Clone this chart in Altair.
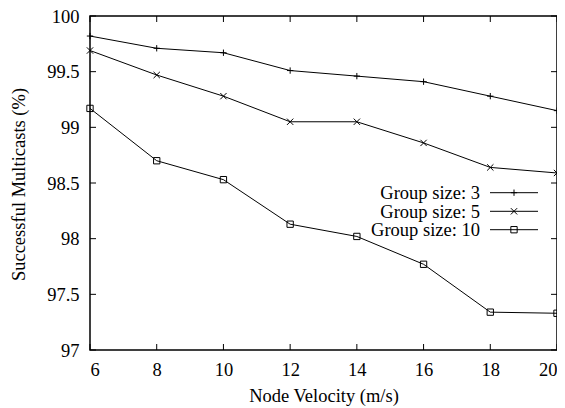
import altair as alt
import pandas as pd

velocity = [6, 8, 10, 12, 14, 16, 18, 20]
group3 = [99.82, 99.71, 99.67, 99.51, 99.46, 99.41, 99.28, 99.15]
group5 = [99.69, 99.47, 99.28, 99.05, 99.05, 98.86, 98.64, 98.59]
group10 = [99.17, 98.70, 98.53, 98.13, 98.02, 97.77, 97.34, 97.33]
series_names = ["Group size: 3", "Group size: 5", "Group size: 10"]
x_ticks = [6, 8, 10, 12, 14, 16, 18, 20]
y_ticks = [97, 97.5, 98, 98.5, 99, 99.5, 100]

PLUS = "M-1,0L1,0M0,-1L0,1"
CROSS = "M-1,-1L1,1M-1,1L1,-1"
SQUARE = "M-1,-1L1,-1L1,1L-1,1Z"
shapes = [PLUS, CROSS, SQUARE]

W, H = 467, 334
TOP = 8
FONT = "Liberation Serif"
FS = 18.5

rows = []
for name, vals in zip(series_names, [group3, group5, group10]):
    for v, s in zip(velocity, vals):
        rows.append({"vel": v, "val": s, "series": name})
df = pd.DataFrame(rows)

xs = alt.Scale(domain=[6, 20], nice=False, zero=False)
ys = alt.Scale(domain=[97, 100], nice=False, zero=False)

x_axis = alt.Axis(
    values=x_ticks, ticks=False, domain=False, grid=False,
    labelFont=FONT, labelFontSize=FS, labelColor="black", labelPadding=10,
    title="Node Velocity (m/s)", titleFont=FONT, titleFontSize=FS,
    titleFontWeight="normal", titleColor="black",
    titleX=W / 2, titleY=51.5, titleBaseline="alphabetic", titleAlign="center")
y_axis = alt.Axis(
    values=y_ticks, ticks=False, domain=False, grid=False,
    labelExpr="'' + datum.value",
    labelFont=FONT, labelFontSize=FS, labelColor="black", labelPadding=11,
    title="Successful Multicasts (%)", titleFont=FONT, titleFontSize=FS,
    titleFontWeight="normal", titleColor="black",
    titleX=-72, titleY=H / 2 + 1, titleBaseline="middle", titleAlign="center", titleAngle=-90)

X = alt.X("vel:Q", scale=xs, axis=x_axis, title="Node Velocity (m/s)")
Y = alt.Y("val:Q", scale=ys, axis=y_axis, title="Successful Multicasts (%)")

lines = alt.Chart(df).mark_line(color="black", strokeWidth=1).encode(
    x=X, y=Y, detail="series:N")
points = alt.Chart(df).mark_point(filled=False, color="black", strokeWidth=1, size=40, opacity=1).encode(
    x=X, y=Y,
    shape=alt.Shape("series:N", scale=alt.Scale(domain=series_names, range=shapes), legend=None))

xt = pd.DataFrame({"vel": x_ticks})
yt = pd.DataFrame({"val": y_ticks})
tick_layers = [
    alt.Chart(xt).mark_rule(color="black", strokeWidth=1).encode(
        x=X, y=alt.value(H), y2=alt.value(H - 6)),
    alt.Chart(xt).mark_rule(color="black", strokeWidth=1).encode(
        x=X, y=alt.value(0), y2=alt.value(6)),
    alt.Chart(yt).mark_rule(color="black", strokeWidth=1).encode(
        y=Y, x=alt.value(0), x2=alt.value(6)),
    alt.Chart(yt).mark_rule(color="black", strokeWidth=1).encode(
        y=Y, x=alt.value(W), x2=alt.value(W - 6)),
]

legend_layers = []
leg_y = [176.7, 195.3, 213.7]
for name, shp, ly in zip(series_names, shapes, leg_y):
    ld = pd.DataFrame({"label": [name]})
    legend_layers.append(alt.Chart(ld).mark_text(
        font=FONT, fontSize=FS, color="black", align="right", baseline="middle").encode(
        text="label:N", x=alt.value(390), y=alt.value(ly + 0.5)))
    legend_layers.append(alt.Chart(ld).mark_rule(color="black", strokeWidth=1).encode(
        x=alt.value(400), x2=alt.value(448), y=alt.value(ly)))
    legend_layers.append(alt.Chart(ld).mark_point(
        shape=shp, filled=False, color="black", strokeWidth=1, size=40, opacity=1).encode(
        x=alt.value(424), y=alt.value(ly)))

chart = alt.layer(lines, points, *tick_layers, *legend_layers).properties(
    width=W, height=H,
    autosize=alt.AutoSizeParams(type="none"),
    padding={"left": 82, "top": TOP, "right": 0, "bottom": 56},
    background="white",
).configure_view(stroke="black", strokeWidth=1.5)

chart.save("out.html", embed_options={"renderer": "svg", "actions": False})
